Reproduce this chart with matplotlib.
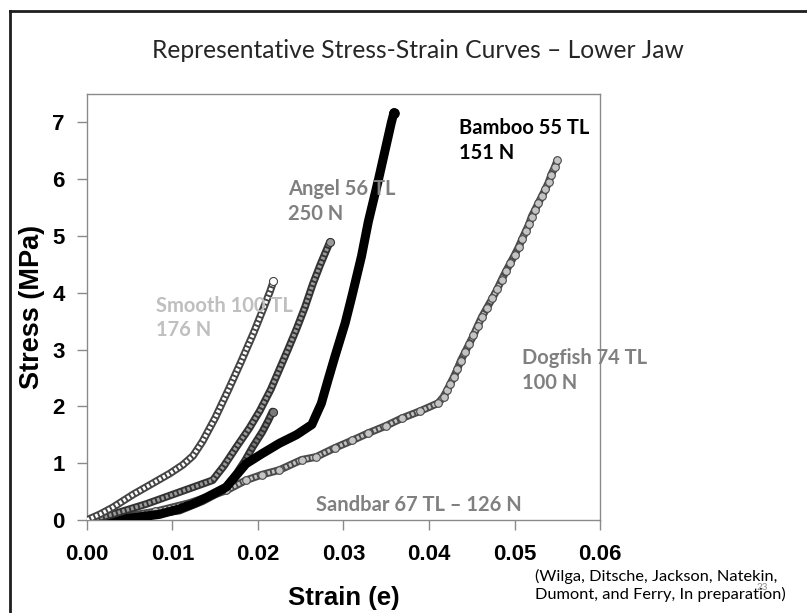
import matplotlib
matplotlib.use("Agg")
import matplotlib.pyplot as plt
from matplotlib.lines import Line2D

# strain / stress values
smooth_x = [0.0, 0.0015, 0.003, 0.0054, 0.0075, 0.0097, 0.0112, 0.0124, 0.0135, 0.0150,
            0.0165, 0.0180, 0.0195, 0.0207, 0.0214, 0.0218]
smooth_y = [0.0, 0.10, 0.22, 0.45, 0.63, 0.82, 0.97, 1.13, 1.38, 1.80,
            2.28, 2.78, 3.30, 3.75, 4.02, 4.20]

angel_x = [0.0005, 0.003, 0.0069, 0.0108, 0.0147, 0.0160, 0.0175, 0.0190, 0.0202, 0.0215,
           0.0225, 0.0235, 0.0245, 0.0255, 0.0264, 0.0273, 0.0280, 0.0284]
angel_y = [0.0, 0.10, 0.28, 0.49, 0.70, 0.95, 1.29, 1.62, 1.92, 2.30,
           2.65, 3.00, 3.36, 3.75, 4.15, 4.50, 4.75, 4.89]

bamboo_x = [0.002, 0.005, 0.0085, 0.0108, 0.0125, 0.0140, 0.0163, 0.0186, 0.0205, 0.0225,
            0.0245, 0.0263, 0.0268, 0.0274, 0.0282, 0.0290, 0.0302, 0.0310, 0.0321, 0.0329,
            0.0341, 0.0350, 0.0356, 0.0359]
bamboo_y = [0.0, 0.03, 0.10, 0.195, 0.29, 0.40, 0.58, 0.99, 1.17, 1.35,
            1.50, 1.68, 1.85, 2.05, 2.47, 2.88, 3.47, 3.95, 4.64, 5.25,
            6.00, 6.60, 7.00, 7.17]

sandbar_x = [0.003, 0.0069, 0.0108, 0.0135, 0.0159, 0.0175, 0.0185, 0.0194, 0.0205, 0.0212, 0.0217]
sandbar_y = [0.02, 0.08, 0.165, 0.33, 0.52, 0.82, 1.05, 1.29, 1.55, 1.75, 1.91]

dogfish_x = [0.0, 0.004, 0.008, 0.012, 0.0163, 0.0186, 0.0205, 0.0225, 0.0251, 0.0268,
             0.0290, 0.0310, 0.0329, 0.0350, 0.0368, 0.0390, 0.0411, 0.0417,
             0.0421, 0.0425, 0.0429, 0.0433, 0.0437, 0.0442, 0.0447, 0.0452, 0.0457,
             0.0462, 0.0468, 0.0474, 0.0480, 0.0485, 0.0490, 0.0495, 0.0500, 0.0505,
             0.0509, 0.0513, 0.0517, 0.0520, 0.0524, 0.0528, 0.0532, 0.0536, 0.0540,
             0.0543, 0.0547, 0.0550]
dogfish_y = [0.0, 0.05, 0.15, 0.30, 0.52, 0.70, 0.80, 0.88, 1.06, 1.11,
             1.27, 1.40, 1.53, 1.66, 1.79, 1.92, 2.06, 2.17,
             2.28, 2.40, 2.52, 2.65, 2.80, 2.95, 3.10, 3.25, 3.42,
             3.58, 3.74, 3.90, 4.07, 4.23, 4.38, 4.52, 4.66, 4.81,
             4.95, 5.08, 5.21, 5.34, 5.46, 5.58, 5.70, 5.82, 5.95,
             6.08, 6.21, 6.33]

x_ticks = [0.00, 0.01, 0.02, 0.03, 0.04, 0.05, 0.06]
y_ticks = [0, 1, 2, 3, 4, 5, 6, 7]

ann_font = "Lato"

fig = plt.figure(figsize=(8.07, 6.13), dpi=100)
fig.patch.set_facecolor("white")
ax = fig.add_axes([0.1078, 0.1517, 0.6357, 0.695])


def draw(xs, ys, fill, edge, z, lw=5.5, beads=False):
    # overlapping circle markers in the original -> thick edge line,
    # dashed fill inside gives the same striped look
    ax.plot(xs, ys, color=edge, lw=lw, solid_capstyle="round", zorder=z)
    ax.plot(xs, ys, color=fill, lw=lw * 0.5, ls=(0, (0.7, 0.5)), zorder=z + 0.1)
    if beads:
        ax.plot(xs, ys, ls="none", marker="o", ms=5.5, mfc=fill, mec=edge, mew=0.8,
                zorder=z + 0.2)
    else:
        ax.plot(xs[-1:], ys[-1:], ls="none", marker="o", ms=lw * 1.05, mfc=fill,
                mec=edge, mew=0.8, zorder=z + 0.2)


draw(dogfish_x, dogfish_y, "#c4c4c4", "#4a4a4a", 2, beads=True)
draw(sandbar_x, sandbar_y, "#7a7a7a", "#303030", 3)
draw(bamboo_x, bamboo_y, "#000000", "#000000", 4, lw=6.5)
draw(angel_x, angel_y, "#9a9a9a", "#333333", 5)
draw(smooth_x, smooth_y, "#ffffff", "#444444", 6)

ax.set_xlim(0, 0.06)
ax.set_ylim(0, 7.5)
ax.set_xticks(x_ticks)
ax.set_yticks(y_ticks)
ax.set_xticklabels([f"{v:.2f}" for v in x_ticks])
ax.set_yticklabels([str(v) for v in y_ticks])
for s in ax.spines.values():
    s.set_color("#8a8a8a")
    s.set_linewidth(1.0)
ax.tick_params(direction="out", length=7, width=1.0, color="#8a8a8a")
for lab in ax.get_xticklabels() + ax.get_yticklabels():
    lab.set_fontfamily("Liberation Sans")
    lab.set_fontweight("bold")
    lab.set_fontsize(16)
    lab.set_color("black")
ax.tick_params(axis="x", pad=10)
ax.tick_params(axis="y", pad=9)

ax.set_xlabel("Strain (e)", fontfamily="Liberation Sans", fontweight="bold",
              fontsize=18.5)
ax.set_ylabel("Stress (MPa)", fontfamily="Liberation Sans", fontweight="bold",
              fontsize=19.5)
ax.xaxis.set_label_coords(0.5, -0.155)
ax.yaxis.set_label_coords(-0.082, 0.5)

# curve labels
lab_kw = dict(fontweight="bold", fontfamily=ann_font, fontsize=14.5, va="top",
              ha="left", linespacing=1.3, zorder=7)
ax.text(0.0435, 7.08, "Bamboo 55 TL\n151 N", color="black", **lab_kw)
ax.text(0.02356, 6.0, "Angel 56 TL\n250 N", color="#808080", **lab_kw)
ax.text(0.0081, 3.95, "Smooth 100 TL\n176 N", color="#bfbfbf", **lab_kw)
ax.text(0.0509, 3.02, "Dogfish 74 TL\n100 N", color="#808080", **lab_kw)
ax.text(0.0268, 0.265, "Sandbar 67 TL \u2013 126 N", color="#808080", fontweight="bold",
        fontfamily=ann_font, fontsize=14.5, va="center", ha="left")

fig.text(0.518, 0.918, "Representative Stress-Strain Curves \u2013 Lower Jaw",
         ha="center", va="center", fontfamily=ann_font, fontsize=17.7, color="#262626")
fig.text(0.663, 0.045, "(Wilga, Ditsche, Jackson, Natekin,\nDumont, and Ferry, In preparation)",
         ha="left", va="center", fontfamily=ann_font, fontsize=11.8, color="black",
         linespacing=1.25)
fig.text(0.945, 0.042, "23", ha="center", va="center", fontfamily=ann_font,
         fontsize=7, color="#8a8a8a")

# slide frame on the left and top
fx = 10 / 807
fy = 1 - 11 / 613
fig.add_artist(Line2D([fx, fx], [0, fy], transform=fig.transFigure, color="#1e1e1e", lw=2))
fig.add_artist(Line2D([fx, 1], [fy, fy], transform=fig.transFigure, color="#1e1e1e", lw=2))

fig.savefig("out.png", dpi=100)
